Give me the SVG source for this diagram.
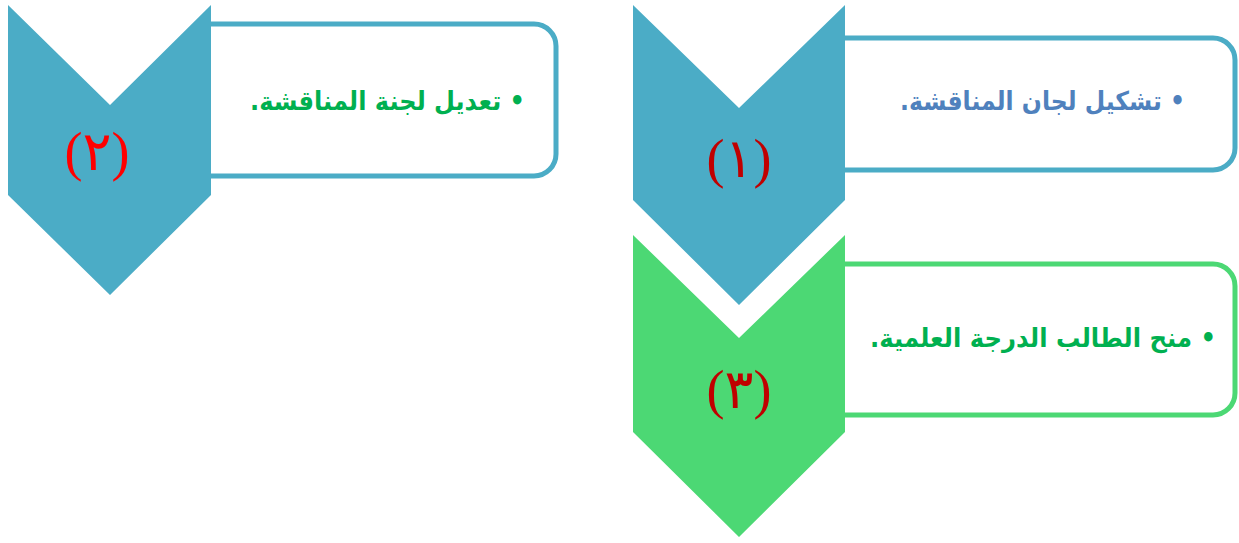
<svg xmlns="http://www.w3.org/2000/svg" width="1239" height="543" viewBox="0 0 1239 543">
<style>
.box{fill:#fff;stroke-width:5}
.bb{stroke:#4BACC6}
.gb{stroke:#4CD874}
.cb{fill:#4BACC6}
.cg{fill:#4CD874}
.lbl{font-family:"DejaVu Sans",sans-serif;font-weight:bold;font-size:26px;direction:rtl;text-anchor:start}
.num{font-family:"Liberation Serif","DejaVu Sans",serif;font-size:54px;text-anchor:middle}
</style>
<rect width="1239" height="543" fill="#fff"/>
<g id="connectors"/>
<g id="node2">
<path class="box bb" d="M200,24 H534 A22,22 0 0 1 556,46 V154 A22,22 0 0 1 534,176 H200 Z"/>
<polygon class="cb" points="8,5 110,105 211,5 211,195 110,295 8,195"/>
<text class="lbl" x="525" y="110" fill="#00B050" textLength="275" lengthAdjust="spacingAndGlyphs">• تعديل لجنة المناقشة.</text>
<text class="num" x="97" y="170" fill="#FF0000">(٢)</text>
</g>
<g id="node3">
<path class="box gb" d="M830,264 H1213 A22,22 0 0 1 1235,286 V393 A22,22 0 0 1 1213,415 H830 Z"/>
<polygon class="cg" points="633,235 739,338 845,235 845,432 739,537 633,432"/>
<text class="lbl" x="1216" y="347" fill="#00B050" textLength="346" lengthAdjust="spacingAndGlyphs">• منح الطالب الدرجة العلمية.</text>
<text class="num" x="739" y="408" fill="#C00000">(٣)</text>
</g>
<g id="node1">
<path class="box bb" d="M830,38 H1213 A22,22 0 0 1 1235,60 V148 A22,22 0 0 1 1213,170 H830 Z"/>
<polygon class="cb" points="633,5 739,108 845,5 845,200 739,305 633,200"/>
<text class="lbl" x="1185" y="110" fill="#4F81BD" textLength="285" lengthAdjust="spacingAndGlyphs">• تشكيل لجان المناقشة.</text>
<text class="num" x="739" y="177" fill="#C00000">(١)</text>
</g>
</svg>
